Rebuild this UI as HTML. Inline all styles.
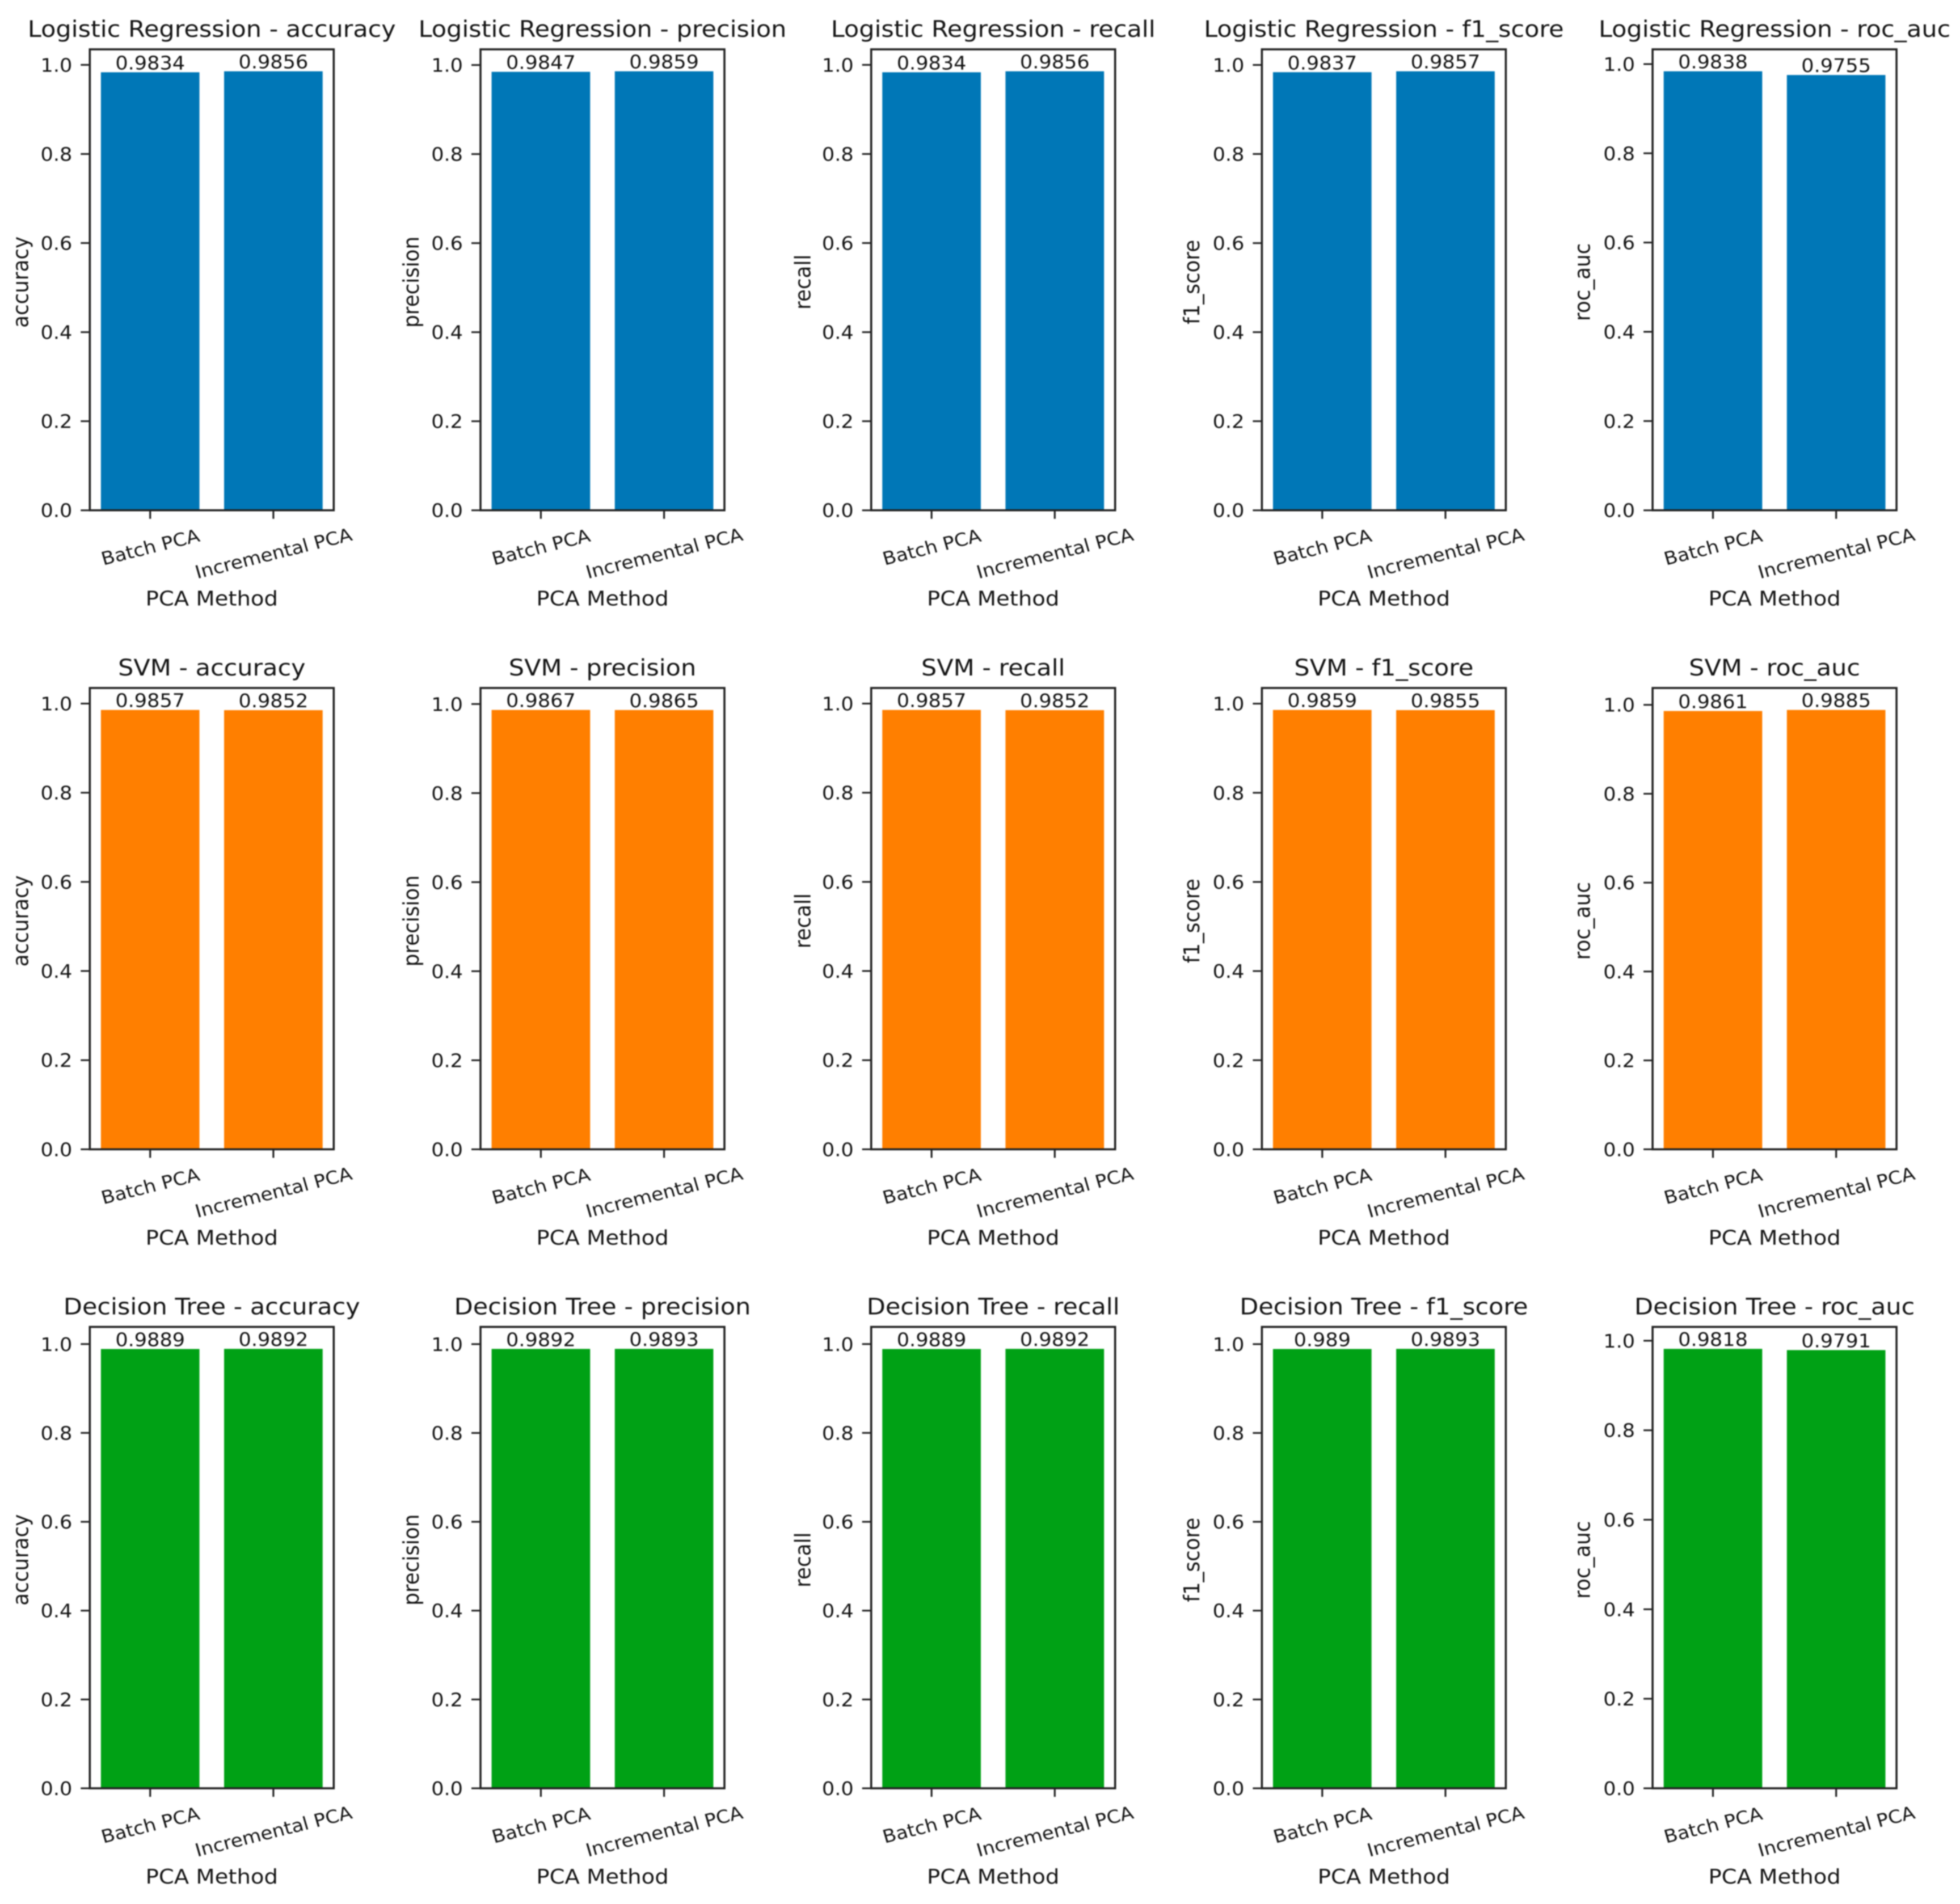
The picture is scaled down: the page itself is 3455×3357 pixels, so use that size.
<!DOCTYPE html>
<html lang="en">
<head>
<meta charset="utf-8">
<title>PCA Method Comparison</title>
<style>
html,body{margin:0;padding:0;background:#fff;}
#chart{display:block;filter:blur(1px);}
text{font-family:"DejaVu Sans","Liberation Sans",sans-serif;fill:#151515;}
</style>
</head>
<body>
<svg id="chart" xmlns="http://www.w3.org/2000/svg" width="3455" height="3357" viewBox="0 0 3455 3357"></svg>
<script>
const models = ['Logistic Regression', 'SVM', 'Decision Tree'];
const metrics = ['accuracy', 'precision', 'recall', 'f1_score', 'roc_auc'];
const methods = ['Batch PCA', 'Incremental PCA'];
const yTickValues = [0, 0.2, 0.4, 0.6, 0.8, 1.0];
const modelColors = ['#0077b7', '#ff7f00', '#00a115'];

const logisticBatch = [0.9834, 0.9847, 0.9834, 0.9837, 0.9838];
const logisticIncremental = [0.9856, 0.9859, 0.9856, 0.9857, 0.9755];
const svmBatch = [0.9857, 0.9867, 0.9857, 0.9859, 0.9861];
const svmIncremental = [0.9852, 0.9865, 0.9852, 0.9855, 0.9885];
const treeBatch = [0.9889, 0.9892, 0.9889, 0.989, 0.9818];
const treeIncremental = [0.9892, 0.9893, 0.9892, 0.9893, 0.9791];

const batchSeries = [logisticBatch, svmBatch, treeBatch];
const incrementalSeries = [logisticIncremental, svmIncremental, treeIncremental];

const svg = document.getElementById('chart');
const NS = 'http://www.w3.org/2000/svg';
const SX = 1.08;
const axLeft0 = 158.3, axStep = 688.7, axWidth = 430;
const axTops = [87, 1213, 2339.5];
const axBottoms = [899.7, 2026.4, 3153];
const ylabelOffset = { accuracy: 109, precision: 109, recall: 107, f1_score: 110.5, roc_auc: 110.5 };
const tickLabelShift = [64, 75];

function make(tag, attrs, content) {
  const node = document.createElementNS(NS, tag);
  for (const k in attrs) node.setAttribute(k, attrs[k]);
  if (content !== undefined) node.textContent = content;
  return node;
}
function xScale(left, pos) {
  return left + (pos + 0.49) / 1.98 * axWidth;
}
function yScale(top, bottom, maxValue, v) {
  return bottom - v / (maxValue * 1.05) * (bottom - top);
}

models.forEach(function (model, r) {
  metrics.forEach(function (metric, c) {
    const left = axLeft0 + c * axStep;
    const right = left + axWidth;
    const top = axTops[r];
    const bottom = axBottoms[r];
    const values = [batchSeries[r][c], incrementalSeries[r][c]];
    const maxValue = Math.max(values[0], values[1]);

    const g = make('g', {});
    
    
    svg.appendChild(g);

    const title = make('text', { 'font-size': 39.8, 'text-anchor': 'middle', transform: 'translate(' + (left + axWidth / 2) + ',' + (top - 22) + ') scale(' + SX + ',1)' }, model + ' - ' + metric);
    
    
    g.appendChild(title);

    values.forEach(function (v, i) {
      const cx = xScale(left, i);
      const x0 = xScale(left, i - 0.4);
      const x1 = xScale(left, i + 0.4);
      const yTop = yScale(top, bottom, maxValue, v);
      const bar = make('rect', { x: x0, y: yTop, width: x1 - x0, height: bottom - yTop, fill: modelColors[r] });
      
      
      g.appendChild(bar);

      const valueLabel = make('text', { 'font-size': 32.5, 'text-anchor': 'middle', transform: 'translate(' + cx + ',' + (yTop - 5) + ') scale(' + SX + ',1)' }, String(v));
      
      
      g.appendChild(valueLabel);

      const xTick = make('line', { x1: cx, x2: cx, y1: bottom, y2: bottom + 15, stroke: '#222', 'stroke-width': 3.2 });
      
      
      g.appendChild(xTick);

      const xTickLabel = make('text', { 'font-size': 31.8, 'text-anchor': 'middle', y: 12, transform: 'translate(' + cx + ',' + (bottom + tickLabelShift[i]) + ') scale(' + SX + ',1) rotate(-15)' }, methods[i]);
      
      
      g.appendChild(xTickLabel);
    });

    yTickValues.forEach(function (t) {
      const y = yScale(top, bottom, maxValue, t);
      const yTick = make('line', { x1: left - 16, x2: left, y1: y, y2: y, stroke: '#222', 'stroke-width': 3 });
      
      
      g.appendChild(yTick);

      const yTickLabel = make('text', { 'font-size': 32.5, 'text-anchor': 'end', transform: 'translate(' + (left - 31) + ',' + (y + 12) + ') scale(' + SX + ',1)' }, t.toFixed(1));
      
      
      g.appendChild(yTickLabel);
    });

    const frame = make('rect', { x: left, y: top, width: axWidth, height: bottom - top, fill: 'none', stroke: '#222', 'stroke-width': 3.6 });
    
    
    g.appendChild(frame);

    const yLabel = make('text', { 'font-size': 35.7, 'text-anchor': 'middle', transform: 'translate(' + (left - ylabelOffset[metric]) + ',' + ((top + bottom) / 2 + 4) + ') scale(' + SX + ',1) rotate(-90)' }, metric);
    
    
    g.appendChild(yLabel);

    const xLabel = make('text', { 'font-size': 35.7, 'text-anchor': 'middle', transform: 'translate(' + (left + axWidth / 2) + ',' + (bottom + 168) + ') scale(' + SX + ',1)' }, 'PCA Method');
    
    
    g.appendChild(xLabel);
  });
});
</script>
</body>
</html>
